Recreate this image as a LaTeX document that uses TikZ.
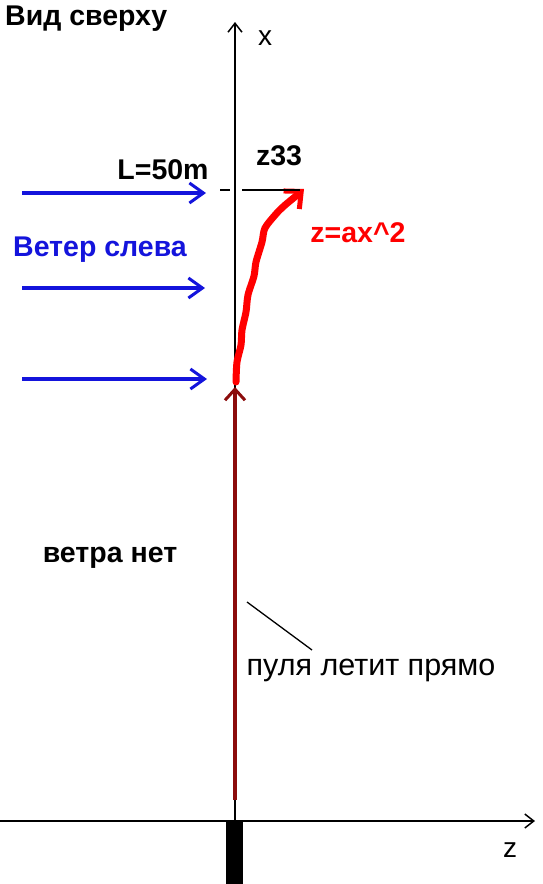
\documentclass[tikz,border=0pt]{standalone}
\usepackage{fontspec}
\setmainfont{Liberation Sans}
\usetikzlibrary{arrows.meta}
\definecolor{darkred}{RGB}{140,12,12}
\definecolor{windblue}{RGB}{20,20,220}

\begin{document}
\begin{tikzpicture}[x=1pt,y=-1pt,
  axis/.style={black,line width=1.5pt,-{Straight Barb[length=9pt,width=14pt,line width=1.5pt]}},
  wind/.style={windblue,line width=3.5pt,-{Straight Barb[length=14pt,width=20pt,line width=3pt]}},
  boldlbl/.style={font=\fontsize{28.5}{32}\selectfont\bfseries,inner sep=0pt}]
\useasboundingbox (0,0) rectangle (542,884);
\fill[white] (0,0) rectangle (542,884);
% axes
\coordinate (o) at (235,821);
\coordinate (xend) at (235,22);
\coordinate (zstart) at (0,821);
\coordinate (zend) at (535,821);
\draw[axis] (235,830) -- (xend);
\draw[axis] (zstart) -- (zend);
\node[font=\fontsize{28}{32}\selectfont,inner sep=0pt] (xlbl) at (265,38) {x};
\node[font=\fontsize{28}{32}\selectfont,inner sep=0pt] (zlbl) at (510,850) {z};
\fill[black] (226,821) rectangle (243,884);
% title
\node[boldlbl,anchor=west] (title) at (5,19) {Вид сверху};
% bullet without wind
\coordinate (gun) at (235,800);
\coordinate (hit) at (235,387);
\draw[darkred,line width=4pt,-{Straight Barb[length=11pt,width=20pt,line width=3pt]}] (gun) -- (hit);
% bullet with wind
\coordinate (top) at (304,189);
\draw[red,line width=7pt,line cap=round,line join=round,-{Straight Barb[length=13pt,width=24pt,line width=5pt]}]
  plot[smooth] coordinates {(236,382) (237,362) (241,345) (242,330) (246,312) (248,295) (254,276)
  (256,262) (262,242) (265,228) (276,214) (284,206) (296,196)} -- (top);
% L line
\coordinate (la) at (220,190);
\coordinate (lb) at (230,190);
\coordinate (lc) at (242,190);
\draw[black,line width=1.3pt] (la) -- (lb) (lc) -- (300,190);
\node[boldlbl] (z33) at (279,156) {z33};
\node[boldlbl] (llbl) at (163,170) {L=50m};
\node[boldlbl,red] (law) at (358,233) {z=ax\textasciicircum 2};
% wind
\node[boldlbl,windblue] (windlbl) at (100,250) {Ветер слева};
\foreach \y/\e in {193/206,288/205,379/207}
  \draw[wind] (22,\y) -- (\e,\y);
% no wind
\node[boldlbl] (nowind) at (110,558) {ветра нет};
\node[font=\fontsize{30.5}{34}\selectfont,inner sep=0pt] (straight) at (371,670) {пуля летит прямо};
\coordinate (ptr) at (247,602);
\draw[black,line width=1.3pt] (ptr) -- (312,650);
\end{tikzpicture}
\end{document}
